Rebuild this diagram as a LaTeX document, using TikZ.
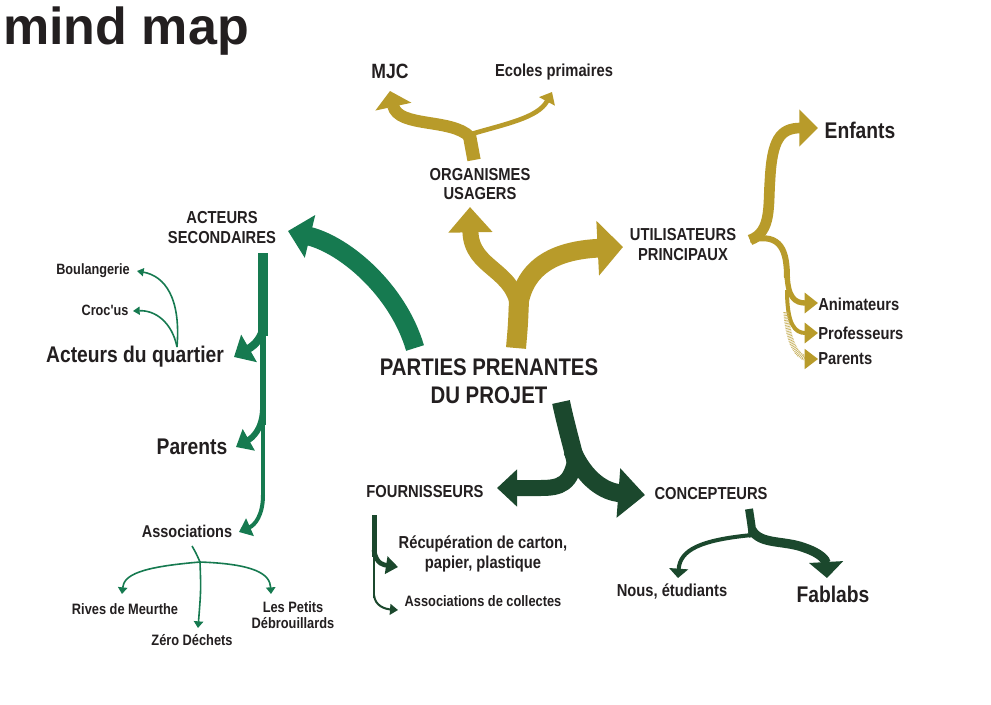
\documentclass[tikz,border=0pt]{standalone}
\usepackage{fontspec}
\setmainfont{Liberation Sans}
\newfontfamily\lab{Liberation Sans}[FakeStretch=0.85]
\usetikzlibrary{arrows.meta}
\definecolor{ink}{RGB}{35,31,32}
\definecolor{gold}{RGB}{184,155,42}
\definecolor{goldlight}{RGB}{200,178,95}
\definecolor{gmid}{RGB}{22,122,80}
\definecolor{gdark}{RGB}{27,72,45}
\tikzset{
  lbl/.style 2 args={text=ink, inner sep=0pt, align=center, font=\lab\bfseries\fontsize{#1}{#2}\selectfont},
  ah/.style 2 args={-{Triangle[length=#1,width=#2]}},
}
\begin{document}
\begin{tikzpicture}[x=0.75pt,y=-0.75pt]
\path[use as bounding box, fill=white] (0,0) rectangle (991,704);

% ---------- labels ----------
\node[text=ink, inner sep=0pt, anchor=base west, font=\bfseries\fontsize{39}{44}\selectfont] (title) at (3,44) {mind map};

\node[lbl={18}{21}] (root) at (489,381) {PARTIES PRENANTES\\DU PROJET};

\node[lbl={13}{14.5}] (org) at (480,184) {ORGANISMES\\USAGERS};
\node[lbl={15.5}{18}] (mjc) at (390,71) {MJC};
\node[lbl={13}{15}] (eco) at (554,72) {Ecoles primaires};

\node[lbl={13}{15}] (util) at (683,245) {UTILISATEURS\\PRINCIPAUX};
\node[lbl={17}{20}] (enf) at (860,130) {Enfants};
\node[lbl={13}{15}, anchor=west] (anim) at (818,304) {Animateurs};
\node[lbl={13}{15}, anchor=west] (prof) at (818,333) {Professeurs};
\node[lbl={13}{15}, anchor=west] (parR) at (818,359) {Parents};

\node[lbl={13}{15}] (sec) at (222,228) {ACTEURS\\SECONDAIRES};
\node[lbl={11.2}{13}] (boul) at (93,271) {Boulangerie};
\node[lbl={11.2}{13}] (croc) at (105,310) {Croc'us};
\node[lbl={17}{20}] (quart) at (135,357) {Acteurs du quartier};
\node[lbl={17}{20}] (parL) at (192,447) {Parents};
\node[lbl={12.8}{15}] (asso) at (187,531) {Associations};
\node[lbl={11.3}{13}] (rives) at (125,609) {Rives de Meurthe};
\node[lbl={11.3}{13}] (zero) at (192,640) {Zéro Déchets};
\node[lbl={11.3}{12}] (petits) at (293,615) {Les Petits\\Débrouillards};

\node[lbl={13}{15}] (four) at (425,492) {FOURNISSEURS};
\node[lbl={13}{15}] (recup) at (483,554) {Récupération de carton,\\papier, plastique};
\node[lbl={11.3}{13}] (coll) at (483,601) {Associations de collectes};

\node[lbl={13}{15}] (conc) at (711,494) {CONCEPTEURS};
\node[lbl={13}{15}] (nous) at (672,591) {Nous, étudiants};
\node[lbl={17}{20}] (fab) at (833,594) {Fablabs};

% ---------- named points of the connectors ----------
\coordinate (gS) at (516,348);
\coordinate (gJ) at (519,300);
\coordinate (tOrg) at (470,207);
\coordinate (tUtil) at (623,247);
\coordinate (oS) at (474,160);
\coordinate (oJ) at (469,133);
\coordinate (tMjc) at (390,91);
\coordinate (tEco) at (552,92);
\coordinate (uJ) at (750,240);
\coordinate (tEnf) at (818,128);
\coordinate (tAnim) at (818,303);
\coordinate (tProf) at (818,333);
\coordinate (tParR) at (818,359);
\coordinate (sS) at (415,348);
\coordinate (tSec) at (288,231);
\coordinate (vTop) at (263,253);
\coordinate (tQuart) at (234,357);
\coordinate (tParL) at (236,447);
\coordinate (tAsso) at (239,532);
\coordinate (qS) at (177,347);
\coordinate (tBoul) at (137,271);
\coordinate (tCroc) at (133,311);
\coordinate (aS) at (192,546);
\coordinate (aJ) at (200,562);
\coordinate (tRives) at (122,594);
\coordinate (tZero) at (198,628);
\coordinate (tPetits) at (271,594);
\coordinate (dS) at (561,402);
\coordinate (dJ) at (577,468);
\coordinate (tFour) at (497,488);
\coordinate (tConc) at (645,495);
\coordinate (cS) at (749,509);
\coordinate (cJ) at (753,537);
\coordinate (tFab) at (827,578);
\coordinate (tNous) at (678,578);
\coordinate (fS) at (374,515);
\coordinate (tRecup) at (398,567);
\coordinate (tColl) at (398,610);

% ---------- gold : usagers ----------
\draw[gold, line width=15pt] (gS) .. controls (518,325) .. (gJ);
\draw[gold, line width=12pt, ah={19pt}{32pt}] (519,312) .. controls (516,268) and (471,270) .. (tOrg);
\draw[gold, line width=14pt, ah={19pt}{40pt}] (518,312) .. controls (522,262) and (562,250) .. (tUtil);

\draw[gold, line width=10pt] (oS) -- (oJ);
\draw[gold, line width=9pt, ah={12pt}{27pt}] (470,137) .. controls (452,118) and (398,128) .. (tMjc);
\draw[gold, line width=3.5pt, ah={8pt}{13pt}] (468,135) .. controls (505,124) and (538,118) .. (tEco);

\draw[gold, line width=8pt, ah={14pt}{27pt}] (uJ) .. controls (772,232) and (768,205) .. (770,180) .. controls (772,140) and (780,128) .. (tEnf);
\draw[gold, line width=4.5pt] (uJ) .. controls (782,232) and (787,252) .. (787,278);
\draw[gold, line width=4pt, ah={10pt}{15pt}] (787,270) .. controls (787,298) and (795,303) .. (tAnim);
\draw[gold, line width=3pt, ah={10pt}{15pt}] (787,290) .. controls (787,325) and (795,333) .. (tProf);
\draw[goldlight, line width=4pt, dash pattern=on 0.5pt off 0.7pt] (786,312) .. controls (789,350) and (800,359) .. (811,359);
\draw[gold, line width=1pt, ah={10pt}{15pt}] (806,359) -- (tParR);

% ---------- medium green : acteurs secondaires ----------
\draw[gmid, line width=14pt, ah={17pt}{32pt}] (sS) .. controls (398,290) and (345,245) .. (tSec);

\draw[gmid, line width=7.5pt] (vTop) -- (263,336);
\draw[gmid, line width=4pt] (263,334) -- (263,425);
\draw[gmid, line width=2.5pt] (263,423) -- (263,500);
\draw[gmid, line width=6pt, ah={13pt}{23pt}] (264,325) .. controls (262,338) and (255,345) .. (tQuart);
\draw[gmid, line width=4.5pt, ah={11pt}{18pt}] (263,410) .. controls (262,430) and (252,438) .. (tParL);
\draw[gmid, line width=3pt, ah={9pt}{14pt}] (263,495) .. controls (263,515) and (255,525) .. (tAsso);

\draw[gmid, line width=1.2pt, ah={5pt}{6pt}] (qS) .. controls (181,298) and (165,276) .. (tBoul);
\draw[gmid, line width=1.2pt, ah={5pt}{6pt}] (qS) .. controls (172,322) and (155,310) .. (tCroc);

\draw[gmid, line width=1.2pt] (aS) .. controls (196,553) .. (aJ);
\draw[gmid, line width=1.2pt, ah={5pt}{7pt}] (aJ) .. controls (140,567) and (124,575) .. (tRives);
\draw[gmid, line width=1.2pt, ah={5pt}{7pt}] (aJ) .. controls (201,590) .. (tZero);
\draw[gmid, line width=1.2pt, ah={5pt}{7pt}] (aJ) .. controls (255,564) and (270,574) .. (tPetits);

% ---------- dark green : fournisseurs / concepteurs ----------
\draw[gdark, line width=13.5pt] (dS) .. controls (567,430) and (572,445) .. (dJ);
\draw[gdark, line width=12pt, ah={15pt}{27pt}] (576,455) .. controls (572,485) and (560,488) .. (540,488) -- (tFour);
\draw[gdark, line width=13.5pt, ah={20pt}{36pt}] (572,450) .. controls (585,480) and (605,492) .. (tConc);

\draw[gdark, line width=6pt] (cS) .. controls (751,522) .. (cJ);
\draw[gdark, line width=7pt, ah={12pt}{25pt}] (752,530) .. controls (760,545) and (785,540) .. (805,548) .. controls (820,553) and (826,560) .. (tFab);
\draw[gdark, line width=3pt, ah={7pt}{14pt}] (752,535) .. controls (700,540) and (680,550) .. (tNous);

\draw[gdark, line width=3.75pt] (fS) -- (374,557);
\draw[gdark, line width=1.5pt] (374,555) -- (374,598);
\draw[gdark, line width=3.5pt, ah={9pt}{13pt}] (374,550) .. controls (376,565) and (385,565) .. (tRecup);
\draw[gdark, line width=1.5pt, ah={6pt}{8pt}] (374,595) .. controls (375,606) and (385,609) .. (tColl);
\end{tikzpicture}
\end{document}
